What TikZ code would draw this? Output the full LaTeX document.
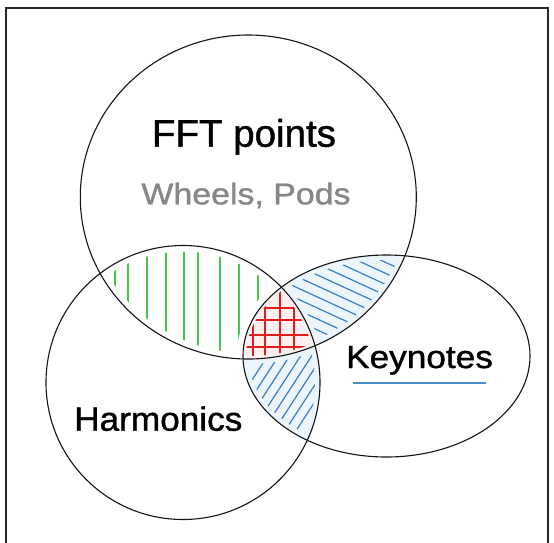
\documentclass[tikz,border=0pt]{standalone}
\usepackage{graphicx}
\usepackage{fontspec}
\setmainfont{Liberation Sans}
\newfontfamily\labelsans[FakeBold=1.1]{Liberation Sans}
\definecolor{ringblack}{RGB}{20,20,20}
\definecolor{hatchgreen}{RGB}{70,200,70}
\definecolor{hatchblue}{RGB}{60,125,200}
\definecolor{hatchred}{RGB}{225,30,30}
\definecolor{tintblue}{RGB}{236,245,252}
\definecolor{tintred}{RGB}{252,240,240}
\definecolor{subgray}{RGB}{135,135,135}
\definecolor{lineblue}{RGB}{75,140,205}
% a slightly wide setting of a label: #1 = font size, #2 = horizontal stretch
\newcommand{\widelabel}[3]{\scalebox{#2}[1]{\labelsans\fontsize{#1}{#1}\selectfont #3}}
\begin{document}
\begin{tikzpicture}[x=1pt,y=-1pt,
  ring/.style={draw=ringblack,line width=1.1pt},
  frameline/.style={draw=black!85,line width=2pt},
  greenhatch/.style={draw=hatchgreen,line width=1.6pt},
  bluehatch/.style={draw=hatchblue,line width=1.2pt},
  redhatch/.style={draw=hatchred,line width=1.5pt},
  setlabel/.style={inner sep=0pt,anchor=base}]

\useasboundingbox (0,0) rectangle (554,542);
\clip (0,0) rectangle (554,542);
\fill[white] (0,0) rectangle (554,542);

% the three sets
\def\fftset{(248.3,197) ellipse [x radius=168pt, y radius=162pt]}
\def\harmset{(183,382.5) circle [radius=137pt]}
\def\keyset{(386.5,356) ellipse [x radius=143.5pt, y radius=101pt]}

% FFT points and Harmonics only: vertical green strokes
\begin{scope}[even odd rule]
  \clip (248.3,197) ellipse [x radius=162pt, y radius=156pt];
  \clip (183,382.5) circle [radius=131pt];
  \clip (0,0) rectangle (554,542)
        (386.5,356) ellipse [x radius=150pt, y radius=108pt];
  \foreach \x in {115,128,147,166,184,198,220,239,258}
    \draw[greenhatch] (\x,230) -- (\x,380);
\end{scope}

% FFT points and Keynotes only: light tint and falling blue strokes
\begin{scope}[even odd rule]
  \clip \fftset;
  \clip \keyset;
  \fill[tintblue] (0,0) rectangle (554,542) \harmset;
\end{scope}
\begin{scope}[even odd rule]
  \clip (248.3,197) ellipse [x radius=163pt, y radius=157pt];
  \clip (386.5,356) ellipse [x radius=138.5pt, y radius=96pt];
  \clip (0,0) rectangle (554,542)
        (183,382.5) circle [radius=142pt];
  \foreach \c in {30,41,...,250}
    \draw[bluehatch] (230,0.46*230+\c) -- (430,0.46*430+\c);
\end{scope}

% Harmonics and Keynotes only: light tint and rising blue strokes
\begin{scope}[even odd rule]
  \clip \harmset;
  \clip \keyset;
  \fill[tintblue] (0,0) rectangle (554,542) \fftset;
\end{scope}
\begin{scope}[even odd rule]
  \clip (183,382.5) circle [radius=132pt];
  \clip (386.5,356) ellipse [x radius=138.5pt, y radius=96pt];
  \clip (0,0) rectangle (554,542)
        (248.3,197) ellipse [x radius=173pt, y radius=167pt];
  \foreach \c in {200,211,...,340}
    \draw[bluehatch] (\c,460) -- (\c+0.65*140,320);
\end{scope}

% all three sets: red grid
\begin{scope}
  \clip \fftset;
  \clip \harmset;
  \clip \keyset;
  \fill[tintred] (0,0) rectangle (554,542);
\end{scope}
\begin{scope}
  \clip (248.3,197) ellipse [x radius=165pt, y radius=159pt];
  \clip (183,382.5) circle [radius=134pt];
  \clip (386.5,356) ellipse [x radius=140.5pt, y radius=98pt];
  \foreach \x in {253,265,280,294}
    \draw[redhatch] (\x,290) -- (\x,360);
  \foreach \y in {308,320,335,347}
    \draw[redhatch] (245,\y) -- (310,\y);
\end{scope}

% outlines
\draw[ring] \fftset;
\draw[ring] \harmset;
\draw[ring] \keyset;

% labels
\node[setlabel] (fft) at (244,146.7) {\widelabel{38.5}{1.0}{FFT points}};
\node[setlabel,text=subgray] (wheels) at (246,204.3) {\widelabel{30}{1.13}{Wheels, Pods}};
\node[setlabel] (key) at (419.5,368) {\widelabel{32}{1.1}{Keynotes}};
\node[setlabel] (harm) at (158.3,430.7) {\widelabel{33.5}{1.05}{Harmonics}};

% rule under Keynotes
\coordinate (ulA) at (352.7,382.7);
\coordinate (ulB) at (486,382.7);
\draw[lineblue,line width=2pt] (ulA) -- (ulB);

% outer frame (its lower edge lies beyond the page)
\draw[frameline] (6,8) rectangle (548,560);
\end{tikzpicture}
\end{document}
